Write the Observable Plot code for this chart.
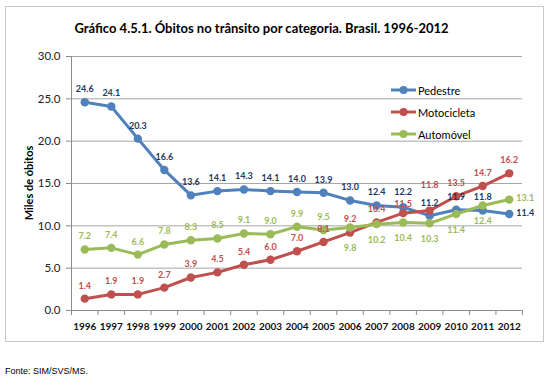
<!DOCTYPE html>
<html>
<head>
<meta charset="utf-8">
<script src="https://cdn.jsdelivr.net/npm/d3@7"></script>
<script src="https://cdn.jsdelivr.net/npm/@observablehq/plot@0.6"></script>
<style>
  html, body { margin: 0; padding: 0; background: #fff; }
  #wrap { position: relative; width: 550px; height: 385px; overflow: hidden; font-family: Lato, "Open Sans", sans-serif; }
  #frame { position: absolute; left: 5px; top: 6px; width: 539px; height: 336px; border: 1px solid #c9c9c9; box-sizing: border-box; }
  #title { position: absolute; left: 0; width: 523px; top: 20px; text-align: center; font-weight: bold; font-size: 13px; color: #000; white-space: nowrap; }
  #plot { position: absolute; left: 0; top: 0; }
  #ylabel { position: absolute; left: 28px; top: 183px; transform: translate(-50%, -50%) rotate(-90deg); font-weight: bold; font-size: 11px; color: #000; white-space: nowrap; }
  #legend { position: absolute; left: 391px; top: 79px; font-size: 11px; color: #000; }
  #legend .row { display: flex; align-items: center; height: 22px; }
  #legend svg { margin-right: 2px; }
  #footer { position: absolute; left: 5px; top: 366px; font-family: "Liberation Sans", Arial, sans-serif; font-size: 9px; color: #000; }
</style>
</head>
<body>
<div id="wrap">
  <div id="frame"></div>
  <div id="plot"></div>
  <div id="title"></div>
  <div id="ylabel"></div>
  <div id="legend"></div>
  <div id="footer"></div>
</div>
<script>
// ---- data ----
const titleText = "Gráfico 4.5.1. Óbitos no trânsito por categoria. Brasil. 1996-2012";
const yLabel = "Miles de óbitos";
const footerText = "Fonte: SIM/SVS/MS.";
const years = [1996, 1997, 1998, 1999, 2000, 2001, 2002, 2003, 2004, 2005, 2006, 2007, 2008, 2009, 2010, 2011, 2012];
const seriesNames = ["Pedestre", "Motocicleta", "Automóvel"];
const pedestre = [24.6, 24.1, 20.3, 16.6, 13.6, 14.1, 14.3, 14.1, 14.0, 13.9, 13.0, 12.4, 12.2, 11.2, 11.9, 11.8, 11.4];
const motocicleta = [1.4, 1.9, 1.9, 2.7, 3.9, 4.5, 5.4, 6.0, 7.0, 8.1, 9.2, 10.4, 11.5, 11.8, 13.5, 14.7, 16.2];
const automovel = [7.2, 7.4, 6.6, 7.8, 8.3, 8.5, 9.1, 9.0, 9.9, 9.5, 9.8, 10.2, 10.4, 10.3, 11.4, 12.4, 13.1];
const yTicks = [0, 5, 10, 15, 20, 25, 30];

// ---- styling ----
const lineColors = {"Pedestre": "#4F81BD", "Motocicleta": "#C0504D", "Automóvel": "#9BBB59"};
const labelColors = {"Pedestre": "#1F3864", "Motocicleta": "#C0504D", "Automóvel": "#9BBB59"};
// label placement per point (style, not data)
const labelPlace = {
  "Pedestre": ["a","a","a","a","a","a","a","a","a","a","a","a","a2","a","a","a","r"],
  "Motocicleta": ["a","a","a","a","a","a","a","a","a","a","a","a","l","h","a","a","a"],
  "Automóvel": ["a","a","a","a","a","a","a","a","a","a","b2","b","b","b","b","b","r"]
};
const placeOffsets = {a: {dx: 0, dy: -13}, a2: {dx: 0, dy: -15}, l: {dx: 0, dy: -9}, h: {dx: 0, dy: -25}, b: {dx: 0, dy: 16}, b2: {dx: 0, dy: 21}, r: {dx: 16, dy: -1}};

const valuesBySeries = {"Pedestre": pedestre, "Motocicleta": motocicleta, "Automóvel": automovel};
const rows = seriesNames.flatMap(s => years.map((yr, i) => ({year: yr, value: valuesBySeries[s][i], series: s, place: labelPlace[s][i]})));
const bounds = years.map(y => y - 0.5).concat([years[years.length - 1] + 0.5]);

const fmt = d3.format(".1f");
const labelMarks = [];
for (const s of seriesNames) {
  for (const [p, off] of Object.entries(placeOffsets)) {
    const sub = rows.filter(r => r.series === s && r.place === p);
    if (!sub.length) continue;
    labelMarks.push(Plot.text(sub, {x: "year", y: "value", text: d => fmt(d.value), fill: labelColors[s], dx: off.dx, dy: off.dy, fontWeight: "bold", fontSize: 9}));
  }
}

const chart = Plot.plot({
  width: 550,
  height: 385,
  marginLeft: 71,
  marginRight: 28,
  marginTop: 56,
  marginBottom: 75,
  style: {fontFamily: "Lato, 'Open Sans', sans-serif", background: "transparent", color: "#000"},
  x: {type: "linear", domain: [bounds[0], bounds[bounds.length - 1]]},
  y: {domain: [0, 30]},
  marks: [
    Plot.gridY(yTicks, {stroke: "#a6a6a6", strokeOpacity: 1}),
    Plot.ruleX([bounds[0]], {y1: 0, y2: 30, stroke: "#8c8c8c"}),
    Plot.ruleY([0], {stroke: "#8c8c8c"}),
    Plot.axisY({ticks: yTicks, tickFormat: fmt, tickSize: 5, tickPadding: 6, stroke: "#8c8c8c", fontSize: 11.5, fill: "#222", label: null}),
    Plot.axisX({ticks: bounds, tickSize: 5, tickFormat: () => "", stroke: "#8c8c8c", label: null}),
    Plot.axisX({ticks: years, tickSize: 0, tickPadding: 12, tickFormat: d => String(d), fontSize: 10, fontWeight: "bold", fill: "#111", label: null}),
    ...seriesNames.map(s => Plot.line(rows.filter(r => r.series === s), {x: "year", y: "value", stroke: lineColors[s], strokeWidth: 3})),
    ...seriesNames.map(s => Plot.dot(rows.filter(r => r.series === s), {x: "year", y: "value", fill: lineColors[s], r: 4.2, stroke: "none"})),
    ...labelMarks
  ]
});
document.getElementById("plot").appendChild(chart);
document.getElementById("title").textContent = titleText;
document.getElementById("ylabel").textContent = yLabel;
document.getElementById("footer").textContent = footerText;

const legend = document.getElementById("legend");
for (const s of seriesNames) {
  const row = document.createElement("div");
  row.className = "row";
  row.innerHTML = `<svg width="25" height="10"><line x1="0" x2="25" y1="5" y2="5" stroke="${lineColors[s]}" stroke-width="3"/><circle cx="12.5" cy="5" r="4" fill="${lineColors[s]}"/></svg><span>${s}</span>`;
  legend.appendChild(row);
}
</script>
</body>
</html>
